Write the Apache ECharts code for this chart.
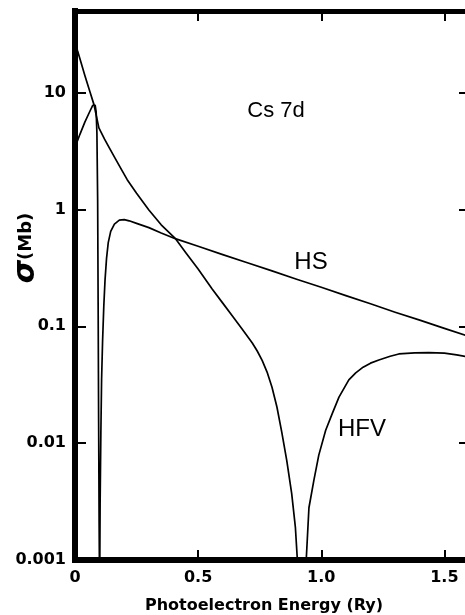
<!DOCTYPE html>
<html>
<head>
<meta charset="utf-8">
<script src="https://cdn.jsdelivr.net/npm/echarts@6/dist/echarts.min.js"></script>
<style>
html,body{margin:0;padding:0;background:#fff;}
#chart{width:465px;height:615px;}
</style>
</head>
<body>
<div id="chart"></div>
<script>
// ---- data ----
var xTickLabels = ['0', '0.5', '1.0', '1.5'];
var yTickLabels = ['0.001', '0.01', '0.1', '1', '10'];

var hsX = [0, 0.02, 0.04, 0.06, 0.072, 0.077, 0.082, 0.086, 0.089, 0.092, 0.094, 0.096, 0.098, 0.1, 0.102, 0.105, 0.108, 0.112, 0.117, 0.122, 0.128, 0.135, 0.145, 0.16, 0.18, 0.2, 0.22, 0.25, 0.3, 0.35, 0.41, 0.5, 0.6, 0.7, 0.8, 0.9, 1.0, 1.1, 1.2, 1.3, 1.4, 1.5, 1.6];
var hsY = [3.4, 4.4, 5.6, 6.9, 7.8, 8.0, 7.8, 6.8, 4.5, 1.2, 0.15, 0.015, 0.002, 0.0005, 0.003, 0.012, 0.035, 0.075, 0.15, 0.25, 0.38, 0.52, 0.65, 0.75, 0.81, 0.82, 0.80, 0.76, 0.70, 0.63, 0.56, 0.484, 0.411, 0.35, 0.298, 0.253, 0.216, 0.183, 0.156, 0.132, 0.113, 0.096, 0.082];

var hfvX = [0, 0.01, 0.02, 0.04, 0.06, 0.077, 0.097, 0.12, 0.14, 0.166, 0.19, 0.212, 0.25, 0.3, 0.35, 0.409, 0.45, 0.5, 0.557, 0.6, 0.64, 0.68, 0.72, 0.74, 0.76, 0.78, 0.8, 0.82, 0.84, 0.86, 0.88, 0.895, 0.903, 0.92, 0.939, 0.95, 0.97, 0.99, 1.018, 1.045, 1.072, 1.112, 1.14, 1.17, 1.2, 1.234, 1.28, 1.315, 1.38, 1.437, 1.5, 1.55, 1.6];
var hfvY = [28, 23, 19.5, 14, 10.3, 7.9, 5.0, 4.0, 3.35, 2.67, 2.17, 1.8, 1.38, 0.99, 0.74, 0.56, 0.427, 0.309, 0.209, 0.158, 0.122, 0.094, 0.072, 0.0615, 0.0512, 0.0406, 0.0301, 0.0204, 0.0123, 0.0071, 0.0037, 0.0019, 0.001, 0.0001, 0.001, 0.0028, 0.0048, 0.0079, 0.0129, 0.018, 0.0248, 0.0348, 0.040, 0.0447, 0.0484, 0.0515, 0.0555, 0.058, 0.0592, 0.0596, 0.059, 0.057, 0.0545];

function zip(xs, ys) { return xs.map(function (x, i) { return [x, ys[i]]; }); }

var FONT = 'Liberation Sans, Arial, Helvetica, sans-serif';
var BFONT = 'DejaVu Sans, Verdana, sans-serif';

function xLabel(v) {
  var i = Math.round(v / 0.5);
  if (Math.abs(v - i * 0.5) > 1e-6 || i >= xTickLabels.length) return '';
  return xTickLabels[i];
}
function yLabel(v) {
  var l = Math.log10(v);
  var k = Math.round(l);
  if (Math.abs(l - k) > 0.01) return '';
  var s = yTickLabels[k + 3];
  return s === undefined ? '' : s;
}

var chart = echarts.init(document.getElementById('chart'), null, {renderer: 'canvas'});
var option = {
  backgroundColor: '#fff',
  animation: false,
  grid: {left: 75, width: 394, top: 11, height: 549, containLabel: false, outerBoundsMode: 'none'},
  xAxis: [
    {
      type: 'value', min: 0, max: 1.6, interval: 0.5, position: 'bottom',
      axisLine: {show: true, onZero: false, lineStyle: {color: '#000', width: 6, cap: 'square'}},
      axisTick: {show: true, inside: true, length: 10, lineStyle: {color: '#000', width: 2}},
      axisLabel: {formatter: xLabel, color: '#000', fontSize: 16, fontWeight: 'bold', fontFamily: BFONT, margin: 10},
      splitLine: {show: false}
    },
    {
      type: 'value', min: 0, max: 1.6, interval: 0.5, position: 'top',
      axisLine: {show: true, onZero: false, lineStyle: {color: '#000', width: 5, cap: 'square'}},
      axisTick: {show: true, inside: true, length: 10, lineStyle: {color: '#000', width: 2}},
      axisLabel: {show: false},
      splitLine: {show: false}
    }
  ],
  yAxis: [
    {
      type: 'log', logBase: 10, min: 0.001, max: 50, position: 'left',
      axisLine: {show: true, onZero: false, lineStyle: {color: '#000', width: 6, cap: 'square'}},
      axisTick: {show: true, inside: true, length: 11, lineStyle: {color: '#000', width: 2}},
      minorTick: {show: false},
      axisLabel: {formatter: yLabel, color: '#000', fontSize: 16, fontWeight: 'bold', fontFamily: BFONT, margin: 9},
      splitLine: {show: false}
    },
    {
      type: 'log', logBase: 10, min: 0.001, max: 50, position: 'right',
      axisLine: {show: true, onZero: false, lineStyle: {color: '#000', width: 5}},
      axisTick: {show: true, inside: true, length: 10, lineStyle: {color: '#000', width: 2}},
      minorTick: {show: false},
      axisLabel: {show: false},
      splitLine: {show: false}
    }
  ],
  series: [
    {
      name: 'HS', type: 'line', xAxisIndex: 0, yAxisIndex: 0,
      data: zip(hsX, hsY), showSymbol: false, symbol: 'none', clip: true,
      lineStyle: {color: '#000', width: 1.7, join: 'round'}
    },
    {
      name: 'HFV', type: 'line', xAxisIndex: 0, yAxisIndex: 0,
      data: zip(hfvX, hfvY), showSymbol: false, symbol: 'none', clip: true,
      lineStyle: {color: '#000', width: 1.7, join: 'round'}
    }
  ],
  graphic: [
    {type: 'text', x: 276, y: 111, style: {text: 'Cs 7d', font: '22px ' + FONT, fill: '#000', textAlign: 'center', textVerticalAlign: 'middle'}},
    {type: 'text', x: 311, y: 262, style: {text: 'HS', font: '24px ' + FONT, fill: '#000', textAlign: 'center', textVerticalAlign: 'middle'}},
    {type: 'text', x: 362, y: 429, style: {text: 'HFV', font: '24px ' + FONT, fill: '#000', textAlign: 'center', textVerticalAlign: 'middle'}},
    {type: 'text', x: 264, y: 606, style: {text: 'Photoelectron Energy (Ry)', font: 'bold 16px ' + BFONT, fill: '#000', textAlign: 'center', textVerticalAlign: 'middle'}},
    {type: 'text', x: 26, y: 248, rotation: Math.PI / 2,
      style: {text: '{s|σ}(Mb)', font: 'bold 18px ' + BFONT, fill: '#000', textAlign: 'center', textVerticalAlign: 'middle',
        rich: {s: {fontSize: 30, fontStyle: 'italic', fontWeight: 'bold', fontFamily: BFONT}}}}
  ]
};
chart.setOption(option);
</script>
</body>
</html>
